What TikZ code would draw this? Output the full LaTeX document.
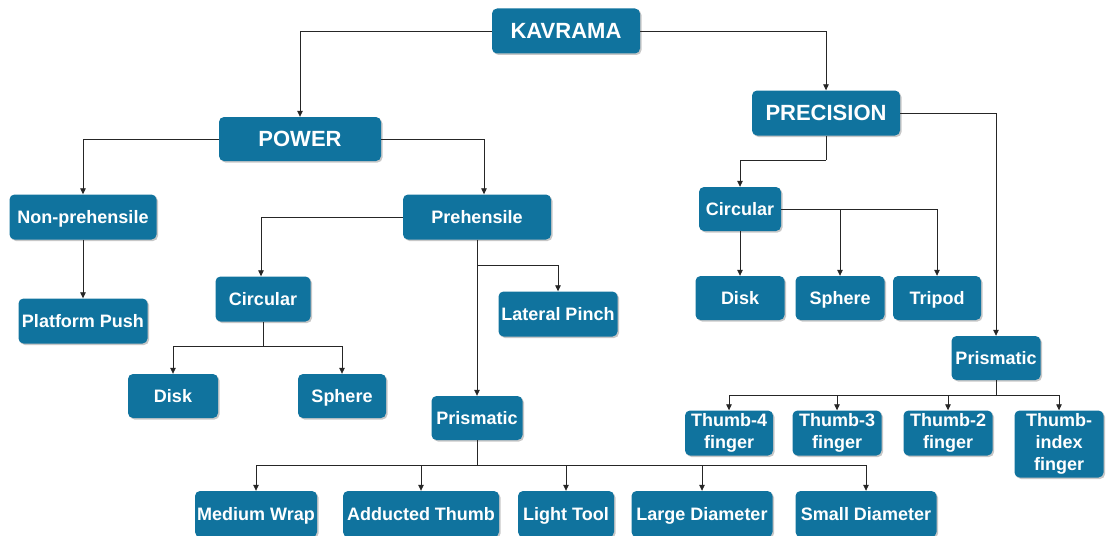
\documentclass[tikz,border=0pt]{standalone}
\usepackage{fontspec}
\setmainfont{Liberation Sans}
\usetikzlibrary{shadows,arrows.meta}
\definecolor{boxblue}{RGB}{16,115,158}
\tikzset{
 box/.style={rectangle, rounded corners=5pt, fill=boxblue, text=white,
   font=\bfseries\fontsize{18}{22}\selectfont, inner sep=0pt, align=center,
   drop shadow={shadow xshift=1.5pt, shadow yshift=-1.5pt, fill=black, opacity=0.22}},
 one/.style={text height=16pt, text depth=4pt},
 big/.style={font=\bfseries\fontsize{22}{26}\selectfont, text height=20pt, text depth=4.8pt},
 conn/.style={draw=black!85, line width=0.8pt, -{Triangle[length=6pt,width=5.5pt]}},
 plain/.style={draw=black!85, line width=0.8pt}
}
\begin{document}
\begin{tikzpicture}[x=1pt,y=-1pt]
\useasboundingbox (0,0) rectangle (1107,535);
% nodes
\node[box,big,minimum width=148pt,minimum height=45pt] (kav) at (566,31) {KAVRAMA};
\node[box,big,minimum width=148pt,minimum height=45pt] (prec) at (826,113) {PRECISION};
\node[box,big,minimum width=162pt,minimum height=44pt] (pow) at (300,139) {POWER};
\node[box,one,minimum width=147pt,minimum height=45pt] (nonp) at (83,217) {Non-prehensile};
\node[box,one,minimum width=129pt,minimum height=45pt] (push) at (83,321) {Platform Push};
\node[box,one,minimum width=148pt,minimum height=45pt] (preh) at (477,217) {Prehensile};
\node[box,one,minimum width=95pt,minimum height=45pt] (circa) at (263,299) {Circular};
\node[box,one,minimum width=119pt,minimum height=45pt] (lat) at (558,314) {Lateral Pinch};
\node[box,one,minimum width=90pt,minimum height=44pt] (diska) at (173,396) {Disk};
\node[box,one,minimum width=88pt,minimum height=44pt] (spha) at (342,396) {Sphere};
\node[box,one,minimum width=91pt,minimum height=44pt] (prisma) at (477,418) {Prismatic};
\node[box,one,minimum width=122pt,minimum height=46pt] (mw) at (256,514) {Medium Wrap};
\node[box,one,minimum width=156pt,minimum height=46pt] (ad) at (421,514) {Adducted Thumb};
\node[box,one,minimum width=96pt,minimum height=46pt] (lt) at (566,514) {Light Tool};
\node[box,one,minimum width=141pt,minimum height=46pt] (ld) at (702,514) {Large Diameter};
\node[box,one,minimum width=141pt,minimum height=46pt] (sd) at (866,514) {Small Diameter};
\node[box,one,minimum width=82pt,minimum height=44pt] (circb) at (740,209) {Circular};
\node[box,one,minimum width=89pt,minimum height=44pt] (diskb) at (740,298) {Disk};
\node[box,one,minimum width=89pt,minimum height=44pt] (sphb) at (840,298) {Sphere};
\node[box,one,minimum width=88pt,minimum height=44pt] (trip) at (937,298) {Tripod};
\node[box,one,minimum width=89pt,minimum height=44pt] (prismb) at (996,358) {Prismatic};
\node[box,minimum width=88pt,minimum height=45pt] (t4) at (729,433) {Thumb-4\\finger};
\node[box,minimum width=89pt,minimum height=45pt] (t3) at (837,433) {Thumb-3\\finger};
\node[box,minimum width=89pt,minimum height=45pt] (t2) at (948,433) {Thumb-2\\finger};
\node[box,minimum width=89pt,minimum height=67pt] (ti) at (1059,444) {Thumb-\\index\\finger};
% junctions
\coordinate (j1) at (477,265);
\coordinate (j2) at (263,346);
\coordinate (j3) at (477,465);
\coordinate (j4) at (826,160);
\coordinate (j5) at (996,395);
% connectors
\draw[conn] (kav.west) -| (pow.north);
\draw[conn] (kav.east) -| (prec.north);
\draw[conn] (pow.west) -| (nonp.north);
\draw[conn] (pow.east) -| ([xshift=7pt]preh.north);
\draw[conn] (nonp) -- (push);
\draw[conn] (preh.west) -| ([xshift=-2pt]circa.north);
\draw[conn] (preh.south) -- (prisma.north);
\draw[conn] (j1) -| (lat.north);
\draw[plain] (circa.south) -- (j2);
\draw[conn] (j2) -| (diska.north);
\draw[conn] (j2) -| (spha.north);
\draw[plain] (prisma.south) -- (j3);
\draw[conn] (j3) -| (mw.north);
\draw[conn] (j3) -| (ad.north);
\draw[conn] (j3) -| (lt.north);
\draw[conn] (j3) -| (ld.north);
\draw[conn] (j3) -| (sd.north);
\draw[plain] (prec.south) -- (j4);
\draw[conn] (j4) -| (circb.north);
\draw[conn] (prec.east) -| (prismb.north);
\draw[conn] (circb) -- (diskb);
\draw[conn] (circb.east) -| (sphb.north);
\draw[conn] (circb.east) -| (trip.north);
\draw[plain] (prismb.south) -- (j5);
\draw[conn] (j5) -| (t4.north);
\draw[conn] (j5) -| (t3.north);
\draw[conn] (j5) -| (t2.north);
\draw[conn] (j5) -| (ti.north);
\end{tikzpicture}
\end{document}
